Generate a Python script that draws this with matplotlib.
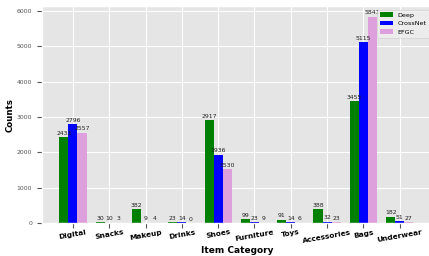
import numpy as np
import matplotlib
matplotlib.use('Agg')
import matplotlib.pyplot as plt

plt.style.use('ggplot')

categories = ['Digital', 'Snacks', 'Makeup', 'Drinks', 'Shoes', 'Furniture',
              'Toys', 'Accessories', 'Bags', 'Underwear']
deep = [2433, 30, 382, 23, 2917, 99, 91, 388, 3455, 182]
crossnet = [2796, 10, 9, 14, 1936, 23, 14, 32, 5115, 51]
efgc = [2557, 3, 4, 0, 1530, 9, 6, 23, 5841, 27]

fig = plt.figure(figsize=(4.29, 2.56), dpi=100)
ax = fig.add_axes([0.098, 0.129, 0.91, 0.846])

x = np.arange(len(categories))
w = 0.25
b1 = ax.bar(x - w, deep, w, color='green', label='Deep')
b2 = ax.bar(x, crossnet, w, color='blue', label='CrossNet')
b3 = ax.bar(x + w, efgc, w, color='plum', label='EFGC')

for bars in (b1, b2, b3):
    for r in bars:
        h = r.get_height()
        ax.annotate(f'{int(h)}', (r.get_x() + r.get_width() / 2, h),
                    xytext=(0, 1), textcoords='offset points',
                    ha='center', va='bottom', fontsize=4.4, color='#222222')

ax.set_xticks(x)
ax.set_xticklabels(categories, rotation=10, fontweight='bold', fontsize=5.3,
                   color='black')
ax.tick_params(axis='y', labelsize=4.4, colors='#555555')
ax.tick_params(axis='x', pad=1)
ax.set_xlim(-0.85, 9.9)
ax.set_ylim(0, 6133)
ax.set_ylabel('Counts', fontweight='bold', fontsize=6.2, color='black')
ax.set_xlabel('Item Category', fontweight='bold', fontsize=6.5, color='black')
ax.yaxis.set_label_coords(-0.069, 0.5)
ax.xaxis.set_label_coords(0.5, -0.106)
ax.legend(loc='upper right', fontsize=4.6, frameon=True, facecolor='#EFEFEF')

fig.savefig('out.png', dpi=100)
